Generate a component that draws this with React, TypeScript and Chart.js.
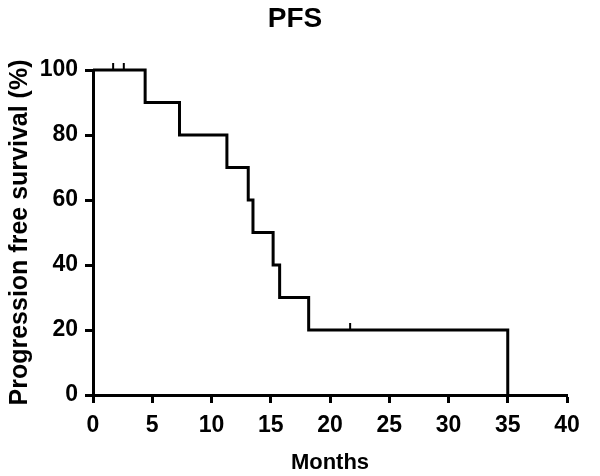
import React, { useEffect, useRef } from "react";
import { Chart, registerables } from "chart.js";

Chart.register(...registerables);

const chartTitle = "PFS";
const xTitle = "Months";
const yTitle = "Progression free survival (%)";
const eventTimes = [0, 4.4, 7.3, 11.3, 13.1, 13.5, 15.2, 15.75, 18.2, 35];
const survival = [100, 90, 80, 70, 60, 50, 40, 30, 20, 0];
const censorTimes = [1.7, 2.6, 21.7];
const xMin = 0;
const xMax = 40;
const xStep = 5;
const yMin = 0;
const yMax = 100;
const yStep = 20;

const FONT = "'Liberation Sans', Arial, Helvetica, sans-serif";

function survivalAt(t: number): number {
  let s = survival[0];
  for (let i = 0; i < eventTimes.length; i++) {
    if (eventTimes[i] <= t) s = survival[i];
  }
  return s;
}

const censorPlugin = {
  id: "censorTicks",
  afterDatasetsDraw(chart: any) {
    const { ctx, scales } = chart;
    const xs = scales.x;
    const ys = scales.y;
    ctx.save();
    ctx.strokeStyle = "#000";
    ctx.lineWidth = 2;
    censorTimes.forEach((t) => {
      const px = xs.getPixelForValue(t);
      const py = ys.getPixelForValue(survivalAt(t));
      ctx.beginPath();
      ctx.moveTo(px, py);
      ctx.lineTo(px, py - 7);
      ctx.stroke();
    });
    ctx.restore();
  },
};

const titlePlugin = {
  id: "pfsTitle",
  afterDraw(chart: any) {
    const { ctx } = chart;
    ctx.save();
    ctx.fillStyle = "#000";
    ctx.font = `bold 28px ${FONT}`;
    ctx.textAlign = "center";
    ctx.textBaseline = "alphabetic";
    ctx.fillText(chartTitle, chart.width / 2 - 5, 27);
    ctx.restore();
  },
};

export default function App() {
  const ref = useRef<HTMLCanvasElement | null>(null);
  useEffect(() => {
    if (!ref.current) return;
    const chart = new Chart(ref.current, {
      type: "line",
      data: {
        datasets: [
          {
            data: eventTimes.map((t, i) => ({ x: t, y: survival[i] })),
            stepped: "before",
            borderColor: "#000",
            borderWidth: 3,
            pointRadius: 0,
            fill: false,
            clip: 10,
          } as any,
        ],
      },
      options: {
        animation: false,
        responsive: false,
        layout: { padding: { left: 0, right: 33, top: 70, bottom: 0 } },
        plugins: {
          legend: { display: false },
          tooltip: { enabled: false },
          title: { display: false },
        },
        scales: {
          x: {
            type: "linear",
            min: xMin,
            max: xMax,
            ticks: {
              stepSize: xStep,
              color: "#000",
              font: { family: FONT, size: 23, weight: "bold" },
              padding: 9,
            },
            grid: {
              drawOnChartArea: false,
              drawTicks: true,
              tickLength: 8,
              tickWidth: 3,
              tickColor: "#000",
            },
            border: { display: true, color: "#000", width: 3 },
            title: {
              display: true,
              text: xTitle,
              color: "#000",
              font: { family: FONT, size: 22, weight: "bold" },
              padding: { top: 0, bottom: 0 },
            },
            afterFit: (axis: any) => {
              axis.height = 81;
            },
          },
          y: {
            type: "linear",
            min: yMin,
            max: yMax,
            ticks: {
              stepSize: yStep,
              color: "#000",
              font: { family: FONT, size: 23, weight: "bold" },
              padding: 7,
            },
            grid: {
              drawOnChartArea: false,
              drawTicks: true,
              tickLength: 8,
              tickWidth: 3,
              tickColor: "#000",
            },
            border: { display: true, color: "#000", width: 3 },
            title: {
              display: true,
              text: yTitle,
              color: "#000",
              font: { family: FONT, size: 25, weight: "bold" },
              padding: { top: 5, bottom: 0 },
            },
            afterFit: (axis: any) => {
              axis.width = 93;
            },
          },
        },
      } as any,
      plugins: [censorPlugin, titlePlugin],
    });
    return () => chart.destroy();
  }, []);
  return (
    <div style={{ position: "fixed", left: 0, top: 0, width: 600, height: 476, background: "#fff" }}>
      <canvas ref={ref} width={600} height={476} />
    </div>
  );
}
